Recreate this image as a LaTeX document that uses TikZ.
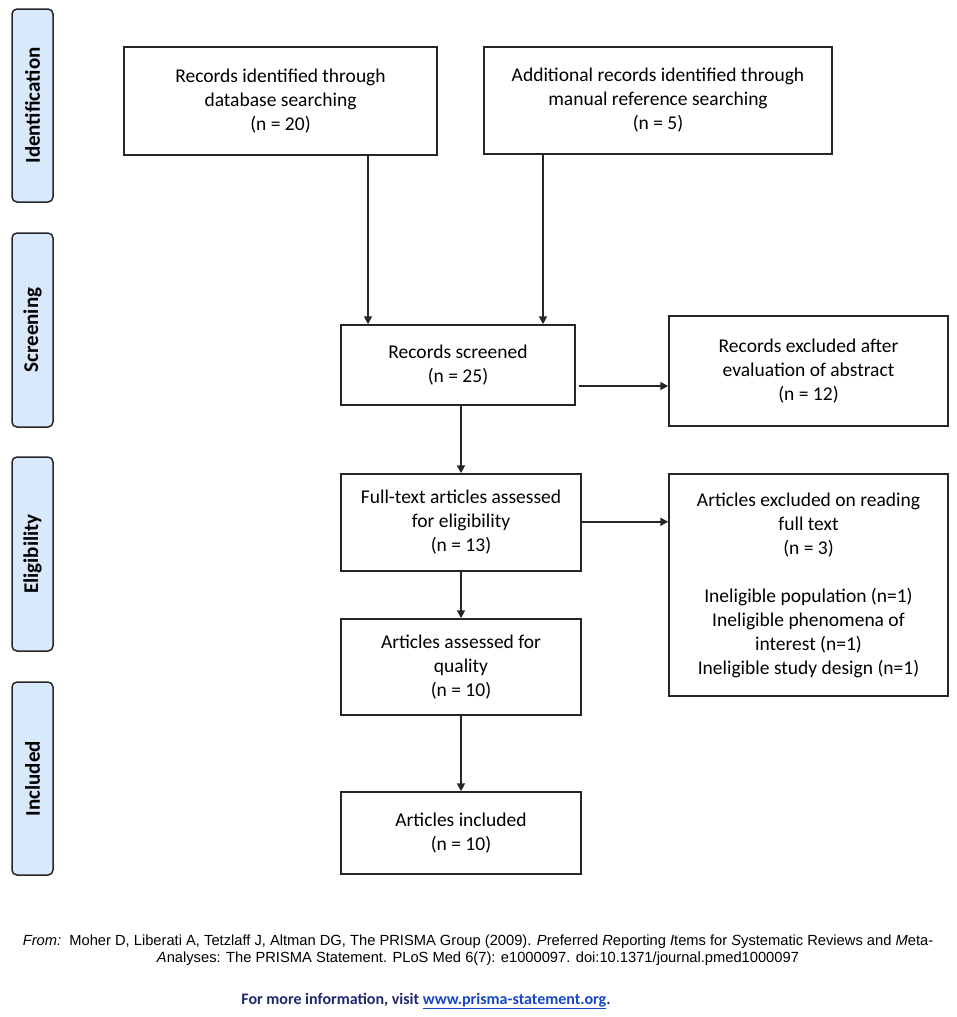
\documentclass[tikz,border=0pt]{standalone}
\usepackage{fontspec}
\setmainfont{Carlito}
\newfontfamily\arialfont{Liberation Sans}
\usetikzlibrary{arrows.meta}
\definecolor{phasefill}{RGB}{216,233,251}
\definecolor{navytext}{RGB}{31,40,110}
\definecolor{linkblue}{RGB}{20,70,200}
\begin{document}
\begin{tikzpicture}[x=1pt,y=-1pt,
  flowbox/.style={draw=black!85, line width=1.5pt, align=center, inner sep=2pt,
    font=\fontsize{19.5}{24}\selectfont},
  phasebox/.style={draw=black!85, line width=1.5pt, fill=phasefill, rounded corners=5pt,
    rotate=90, minimum height=41pt, inner sep=0pt,
    font=\fontsize{21}{24}\selectfont\bfseries},
  arr/.style={-{Triangle[length=8pt,width=8pt]}, line width=1.8pt, draw=black!85}]
\useasboundingbox (0,0) rectangle (957,1017);

% phase labels
\node[phasebox, minimum width=193pt] (pid) at (32.5,105.5) {Identification};
\node[phasebox, minimum width=194pt] (psc) at (32.5,330) {Screening};
\node[phasebox, minimum width=194pt] (pel) at (32.5,554) {Eligibility};
\node[phasebox, minimum width=193pt] (pin) at (32.5,778.5) {Included};

% flow boxes
\node[flowbox, minimum width=313pt, minimum height=108pt] (b1) at (280.5,101)
  {Records identified through\\database searching\\(n = 20)};
\node[flowbox, minimum width=348pt, minimum height=107pt] (b2) at (658,100.5)
  {Additional records identified through\\manual reference searching\\(n = 5)};
\node[flowbox, minimum width=234pt, minimum height=80pt] (scr) at (458,365)
  {Records screened\\(n = 25)};
\node[flowbox, minimum width=279pt, minimum height=110pt] (ex1) at (808.5,371)
  {Records excluded after\\evaluation of abstract\\(n = 12)};
\node[flowbox, minimum width=240pt, minimum height=97pt] (ft) at (461,522.5)
  {Full-text articles assessed\\for eligibility\\(n = 13)};
\node[flowbox, minimum width=279pt, minimum height=222pt] (ex2) at (808.5,585)
  {Articles excluded on reading\\full text\\(n = 3)\\[24pt]Ineligible population (n=1)\\Ineligible phenomena of\\interest (n=1)\\Ineligible study design (n=1)};
\node[flowbox, minimum width=240pt, minimum height=96pt] (qual) at (461,667)
  {Articles assessed for\\quality\\(n = 10)};
\node[flowbox, minimum width=240pt, minimum height=82pt] (inc) at (461,833)
  {Articles included\\(n = 10)};

% connectors
\coordinate (s1) at ([xshift=3pt,yshift=-21pt]scr.east);
\coordinate (s2) at ([yshift=0.7pt]ft.east);
\draw[arr] ([xshift=87.5pt]b1.south) -- ([xshift=87.5pt]b1.south |- scr.north);
\draw[arr] ([xshift=-115pt]b2.south) -- ([xshift=-115pt]b2.south |- scr.north);
\draw[arr] (scr.south -| ft.north) -- (ft.north);
\draw[arr] (s1) -- (ex1.west |- s1);
\draw[arr] (s2) -- (ex2.west |- s2);
\draw[arr] (ft.south) -- (qual.north);
\draw[arr] (qual.south) -- (inc.north);

% footer
\node[align=center, inner sep=0pt, font=\arialfont\fontsize{14.7}{17}\selectfont] (cite) at (478,950.5)
  {\textit{From:}\ \ Moher D, Liberati A, Tetzlaff J, Altman DG, The PRISMA Group (2009). \textit{P}referred \textit{R}eporting \textit{I}tems for \textit{S}ystematic Reviews and \textit{M}eta-\\\textit{A}nalyses: The PRISMA Statement. PLoS Med 6(7): e1000097. doi:10.1371/journal.pmed1000097};
\node[inner sep=0pt, font=\fontsize{16}{18}\selectfont\bfseries, text=navytext] (info) at (426,1001)
  {For more information, visit \textcolor{linkblue}{\underline{www.prisma-statement.org}}.};
\end{tikzpicture}
\end{document}
